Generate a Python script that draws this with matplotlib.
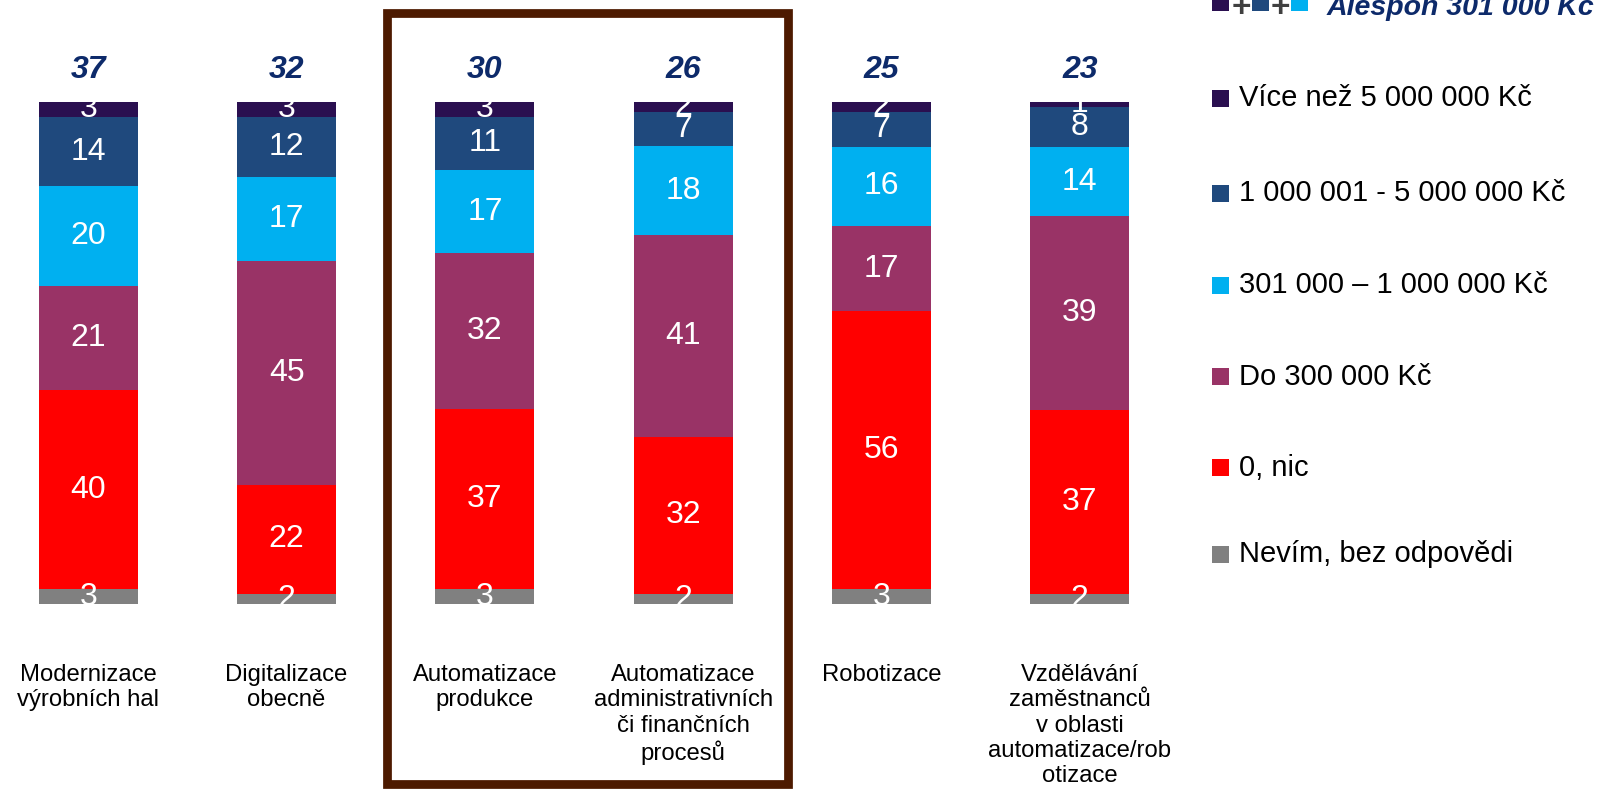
import numpy as np
import matplotlib
matplotlib.use('Agg')
import matplotlib.pyplot as plt
from matplotlib.patches import Rectangle

plt.rcParams['font.family'] = ['Liberation Sans', 'DejaVu Sans']

categories = ['Modernizace\nvýrobních hal', 'Digitalizace\nobecně', 'Automatizace\nprodukce',
              'Automatizace\nadministrativních\nči finančních\nprocesů', 'Robotizace',
              'Vzdělávání\nzaměstnanců\nv oblasti\nautomatizace/rob\notizace']

# stacked from bottom to top
nevim = [3, 2, 3, 2, 3, 2]
nic = [40, 22, 37, 32, 56, 37]
do_300k = [21, 45, 32, 41, 17, 39]
k301_1m = [20, 17, 17, 18, 16, 14]
m1_5m = [14, 12, 11, 7, 7, 8]
nad_5m = [3, 3, 3, 2, 2, 1]
alespon = [37, 32, 30, 26, 25, 23]

series = [
    ('Nevím, bez odpovědi', nevim, '#808080'),
    ('0, nic', nic, '#FF0000'),
    ('Do 300 000 Kč', do_300k, '#993366'),
    ('301 000 – 1 000 000 Kč', k301_1m, '#00B0F0'),
    ('1 000 001 - 5 000 000 Kč', m1_5m, '#1F497D'),
    ('Více než 5 000 000 Kč', nad_5m, '#2A0F50'),
]
navy_txt = '#0D2A6A'

W, H = 1606, 798
fig = plt.figure(figsize=(W / 100, H / 100), dpi=100)

def fx(px):
    return px / W

def fy(py):
    return 1 - py / H

ax = fig.add_axes([0, fy(604), fx(1190), fy(102) - fy(604)])
x = np.arange(len(categories))
raw = np.array([s[1] for s in series], dtype=float)
scaled = raw / raw.sum(axis=0) * 100   # bars drawn to full height
bottom = np.zeros(len(categories))
for (name, vals, col), h in zip(series, scaled):
    ax.bar(x, h, 0.5, bottom=bottom, color=col, edgecolor='none')
    for i in range(len(x)):
        ax.text(x[i], bottom[i] + h[i] / 2, str(vals[i]), ha='center', va='center',
                color='white', fontsize=23, clip_on=True)
    bottom += h

for i, t in enumerate(alespon):
    ax.text(x[i], 106.4, str(t), ha='center', va='center', color=navy_txt,
            fontsize=23, fontweight='bold', fontstyle='italic', clip_on=False)
    ax.annotate(categories[i], (x[i], 0), xytext=(0, -43), textcoords='offset points',
                ha='center', va='top', fontsize=17.2, linespacing=1.2, annotation_clip=False)

ax.set_xlim(-88.3 / 198.3, (1190 - 88.3) / 198.3)
ax.set_ylim(0, 100)
ax.axis('off')

# highlight frame around automation bars
fig.add_artist(Rectangle((fx(387), fy(783.5)), fx(787.5) - fx(387), fy(12.5) - fy(783.5),
                         transform=fig.transFigure, fill=False, edgecolor='#4D1A00', lw=6.3))

# legend
leg_y = [98, 193, 285, 377, 468, 554]
sq = 17
for (name, vals, col), yy in zip(series[::-1], leg_y):
    fig.add_artist(Rectangle((fx(1212), fy(yy + sq / 2)), fx(sq), sq / H,
                             transform=fig.transFigure, facecolor=col, edgecolor='none'))
    fig.text(fx(1239), fy(yy), name, ha='left', va='center', fontsize=21)

# top entry: sum of the three highest categories
for xp, col in zip([1212, 1252, 1291], [series[5][2], series[4][2], series[3][2]]):
    fig.add_artist(Rectangle((fx(xp), fy(11)), fx(sq), sq / H,
                             transform=fig.transFigure, facecolor=col, edgecolor='none'))
for xp in [1241, 1280]:
    fig.text(fx(xp), fy(8), '+', ha='center', va='center', fontsize=24,
             fontweight='bold', color='#404040')
fig.text(fx(1327), fy(15), 'Alespoň 301 000 Kč', ha='left', va='baseline', fontsize=20.5,
         fontweight='bold', fontstyle='italic', color=navy_txt)

fig.savefig('out.png', dpi=100)
